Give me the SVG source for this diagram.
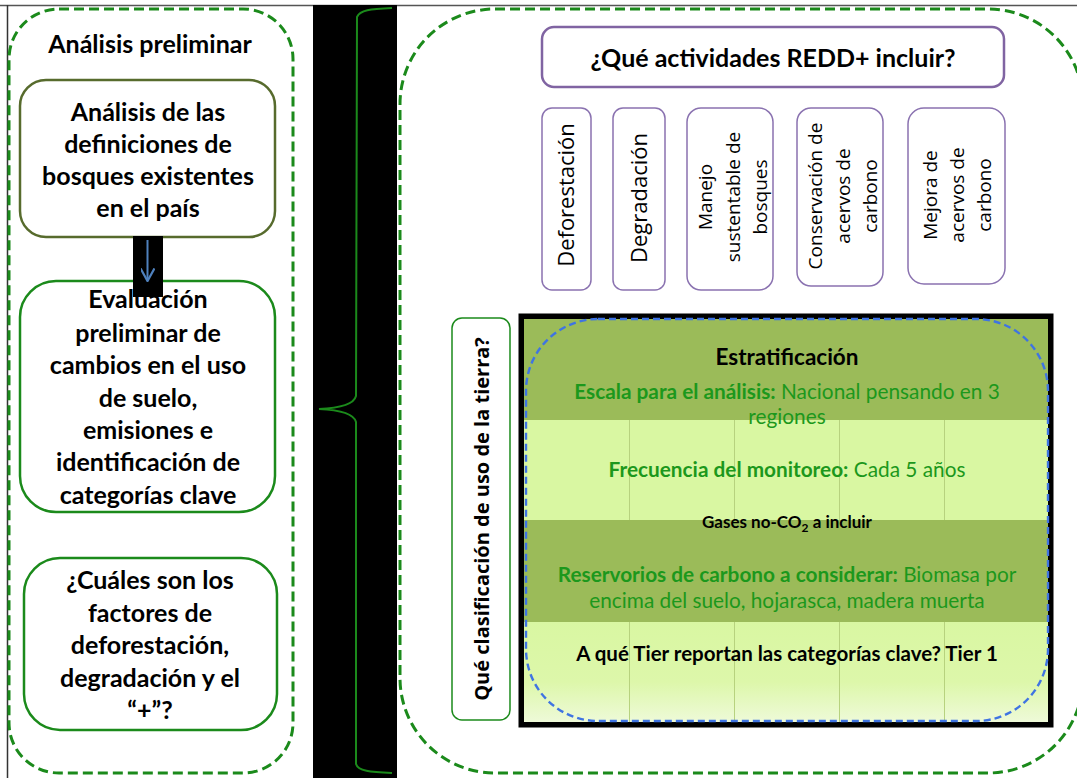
<svg xmlns="http://www.w3.org/2000/svg" width="1077" height="778" viewBox="0 0 1077 778">
<defs>
<style>
.cal{font-family:Lato,"Liberation Sans",sans-serif}
.os{font-family:"Open Sans","DejaVu Sans",sans-serif}
.b{font-weight:bold}
.lt{font-size:25px;font-weight:bold;fill:#000;text-anchor:middle}
.vt{font-size:22px;fill:#000;text-anchor:middle}
.vt3{font-size:19px;fill:#000;text-anchor:middle}
.dash{fill:none;stroke:#1b8a1b;stroke-width:3;stroke-dasharray:10 5}
.pbox{fill:#fff;stroke:#8a72b0;stroke-width:1.5}
.gtxt{fill:#1c981c;font-size:20.8px;text-anchor:middle}
</style>
<marker id="arr" viewBox="0 0 10 10" refX="9" refY="5" markerWidth="7" markerHeight="7" orient="auto">
<path d="M0,0 L9,5 L0,10" fill="none" stroke="#4f81bd" stroke-width="1.6"/>
</marker>
<linearGradient id="fade" x1="0" y1="0" x2="0" y2="1">
<stop offset="0" stop-color="#d9f7a2"/>
<stop offset="0.6" stop-color="#ddf7aa"/>
<stop offset="1" stop-color="#eefad8"/>
</linearGradient>
</defs>
<rect width="1077" height="778" fill="#fff"/>
<!-- frame lines -->
<line x1="0" y1="5.5" x2="1077" y2="5.5" stroke="#555" stroke-width="1.5"/>
<line x1="7.5" y1="5" x2="7.5" y2="778" stroke="#333" stroke-width="1.5"/>

<!-- left container -->
<g id="left-panel">
<rect x="9" y="9" width="284" height="764" rx="50" class="dash"/>
<text x="150" y="53" class="cal lt" font-size="24">Análisis preliminar</text>
</g>

<g id="box-definiciones">
<rect x="20" y="80" width="255" height="157" rx="26" fill="#fff" stroke="#576b2d" stroke-width="2.5"/>
<text class="cal lt"><tspan x="148" y="121">Análisis de las</tspan><tspan x="148" y="153">definiciones de</tspan><tspan x="148" y="185">bosques existentes</tspan><tspan x="148" y="217">en el país</tspan></text>
</g>

<g id="box-evaluacion">
<rect x="20" y="281" width="255" height="231" rx="36" fill="#fff" stroke="#1b8a1b" stroke-width="2.5"/>
<text class="cal lt"><tspan x="148" y="308">Evaluación</tspan><tspan x="148" y="342">preliminar de</tspan><tspan x="148" y="374">cambios en el uso</tspan><tspan x="148" y="407">de suelo,</tspan><tspan x="148" y="439">emisiones  e</tspan><tspan x="148" y="471">identificación de</tspan><tspan x="148" y="504">categorías clave</tspan></text>
</g>

<g id="box-factores">
<rect x="24" y="558" width="253" height="172" rx="36" fill="#fff" stroke="#1b8a1b" stroke-width="2.5"/>
<text class="cal lt"><tspan x="150" y="589">¿Cuáles son los</tspan><tspan x="150" y="622">factores de</tspan><tspan x="150" y="654">deforestación,</tspan><tspan x="150" y="687">degradación y el</tspan><tspan x="150" y="719">“+”?</tspan></text>
</g>

<!-- black band with brace -->
<g id="brace">
<rect x="313" y="5" width="84" height="773" fill="#000"/>
<path d="M392,8 C370,9 360,10 357,17 L356,396 C354,404 340,408 319,409 C340,410 354,414 356,422 L356,764 C358,771 370,772 392,773" fill="none" stroke="#1b8a1b" stroke-width="2"/>
</g>

<!-- right container -->
<g id="right-panel">
<rect x="400" y="9" width="683" height="764" rx="95" class="dash"/>
</g>

<g id="box-actividades">
<rect x="542" y="27" width="462" height="60" rx="12" fill="#fff" stroke="#8064a2" stroke-width="2.5"/>
<text x="773" y="67" class="cal lt" font-size="26">¿Qué actividades REDD+ incluir?</text>
</g>

<g id="act-deforestacion">
<rect x="542" y="108" width="49" height="182" rx="10" class="pbox"/>
<text transform="translate(574,195) rotate(-90)" class="os vt">Deforestación</text>
</g>
<g id="act-degradacion">
<rect x="613" y="108" width="52" height="182" rx="10" class="pbox"/>
<text transform="translate(647,198) rotate(-90)" class="os vt">Degradación</text>
</g>
<g id="act-manejo">
<rect x="687" y="108" width="86" height="182" rx="14" class="pbox"/>
<text transform="translate(712,197) rotate(-90)" class="os vt3">Manejo</text>
<text transform="translate(740,197) rotate(-90)" class="os vt3">sustentable de</text>
<text transform="translate(767,197) rotate(-90)" class="os vt3">bosques</text>
</g>
<g id="act-conservacion">
<rect x="797" y="108" width="86" height="178" rx="14" class="pbox"/>
<text transform="translate(822,196) rotate(-90)" class="os vt3">Conservación de</text>
<text transform="translate(850,196) rotate(-90)" class="os vt3">acervos de</text>
<text transform="translate(877,196) rotate(-90)" class="os vt3">carbono</text>
</g>
<g id="act-mejora">
<rect x="908" y="108" width="97" height="176" rx="16" class="pbox"/>
<text transform="translate(937,195) rotate(-90)" class="os vt3">Mejora de</text>
<text transform="translate(964,195) rotate(-90)" class="os vt3">acervos de</text>
<text transform="translate(991,195) rotate(-90)" class="os vt3">carbono</text>
</g>

<g id="box-clasificacion">
<rect x="452" y="318" width="58" height="402" rx="10" fill="#fff" stroke="#1b8a1b" stroke-width="1.5"/>
<text transform="translate(489,519) rotate(-90)" class="os b" font-size="20" text-anchor="middle">Qué clasificación de uso de la tierra?</text>
</g>

<g id="tabla-estratificacion">
<rect x="521" y="316" width="530" height="409" fill="#000" stroke="#000" stroke-width="5"/>
<rect x="524" y="319" width="524" height="101" fill="#9bbb59"/>
<rect x="524" y="420" width="524" height="100" fill="#d9f7a2"/>
<rect x="524" y="520" width="524" height="102" fill="#9bbb59"/>
<rect x="524" y="622" width="524" height="100" fill="url(#fade)"/>
<g stroke="#b7d27e" stroke-width="1">
<line x1="629.5" y1="420" x2="629.5" y2="520"/><line x1="734.5" y1="420" x2="734.5" y2="520"/><line x1="839.5" y1="420" x2="839.5" y2="520"/><line x1="944.5" y1="420" x2="944.5" y2="520"/>
<line x1="629.5" y1="622" x2="629.5" y2="722"/><line x1="734.5" y1="622" x2="734.5" y2="722"/><line x1="839.5" y1="622" x2="839.5" y2="722"/><line x1="944.5" y1="622" x2="944.5" y2="722"/>
</g>
<rect x="526" y="319" width="522" height="402" rx="72" fill="none" stroke="#3f74e2" stroke-width="2.4" stroke-dasharray="7 4"/>
<text x="787" y="365" class="cal b" font-size="22.5" text-anchor="middle">Estratificación</text>
<text x="787" y="399" class="cal gtxt"><tspan font-weight="bold">Escala para el análisis:</tspan> Nacional pensando en 3</text>
<text x="787" y="424" class="cal gtxt">regiones</text>
<text x="787" y="477" class="cal gtxt"><tspan font-weight="bold">Frecuencia del monitoreo:</tspan> Cada 5 años</text>
<text x="787" y="528" class="cal b" font-size="17" text-anchor="middle">Gases no-CO<tspan font-size="12" dy="4">2</tspan><tspan dy="-4"> a incluir</tspan></text>
<text x="787" y="582" class="cal gtxt"><tspan font-weight="bold">Reservorios de carbono a considerar:</tspan> Biomasa por</text>
<text x="787" y="608" class="cal gtxt">encima del suelo, hojarasca, madera muerta</text>
<text x="787" y="661" class="cal b" font-size="20.5" text-anchor="middle">A qué Tier reportan las categorías clave? Tier 1</text>
</g>

<!-- connector -->
<g id="connectors">
<rect x="133" y="236" width="30" height="61" fill="#000"/>
<line x1="147.5" y1="240" x2="147.5" y2="281" stroke="#4f81bd" stroke-width="2" marker-end="url(#arr)"/>
</g>
</svg>
